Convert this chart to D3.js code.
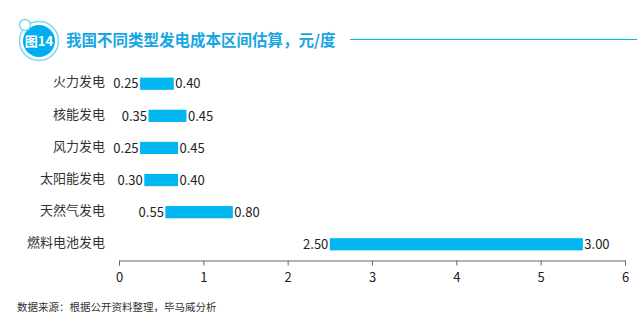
<!DOCTYPE html>
<html><head><meta charset="utf-8">
<script src="https://cdn.jsdelivr.net/npm/d3@7/dist/d3.min.js"></script>
<style>body{margin:0;background:#fff;}svg{display:block;font-family:"Noto Sans CJK SC","Noto Sans",sans-serif;}</style>
</head><body><svg id="c" width="637" height="326"></svg>
<script>
const categories = ["火力发电","核能发电","风力发电","太阳能发电","天然气发电","燃料电池发电"];
const lowValues = [0.25,0.35,0.25,0.30,0.55,2.50];
const highValues = [0.40,0.45,0.45,0.40,0.80,3.00];
const xTicks = [0,1,2,3,4,5,6];
const title = "我国不同类型发电成本区间估算，元/度";
const source = "数据来源：根据公开资料整理，毕马威分析";

const svg = d3.select("#c");
const blue = "#00B7F1";
const x = d3.scaleLinear().domain([0,6]).range([119,625]);
const y = d3.scaleBand().domain(categories).range([68,260]).paddingInner(0.62).paddingOuter(0.3);

// header badge
svg.append("circle").attr("cx",39).attr("cy",41).attr("r",19.5).attr("fill","none").attr("stroke","#7fd6f6").attr("stroke-width",1.5);
svg.append("circle").attr("cx",39).attr("cy",41).attr("r",16).attr("fill","#00AEEF");
svg.append("circle").attr("cx",25).attr("cy",25).attr("r",5.5).attr("fill","#fff").attr("stroke","#7fd6f6").attr("stroke-width",1.5);
svg.append("text").attr("x",39).attr("y",46).attr("text-anchor","middle").attr("fill","#fff")
  .attr("font-size",13).attr("font-weight","bold").text("图14");
svg.append("text").attr("x",66).attr("y",46).attr("fill","#17A6E3").attr("font-size",15.5).attr("font-weight","bold").text(title);
svg.append("line").attr("x1",350).attr("x2",637).attr("y1",39.5).attr("y2",39.5).attr("stroke","#00B7F1").attr("stroke-width",1.2);

// bars (stacked: invisible low + visible high)
const g = svg.append("g");
categories.forEach((c,i)=>{
  const yc = y(c) + y.bandwidth()/2;
  const x0 = x(lowValues[i]), x1 = x(lowValues[i]+highValues[i]);
  g.append("rect").attr("x",x0).attr("y",y(c)).attr("width",x1-x0).attr("height",y.bandwidth()).attr("fill",blue);
  g.append("text").attr("x",x0-1.5).attr("y",yc).attr("dy","0.36em").attr("text-anchor","end")
    .attr("font-size",13).attr("fill","#222").text(lowValues[i].toFixed(2));
  g.append("text").attr("x",x1+1.5).attr("y",yc).attr("dy","0.36em").attr("text-anchor","start")
    .attr("font-size",13).attr("fill","#222").text(highValues[i].toFixed(2));
  g.append("text").attr("x",105).attr("y",yc-2).attr("dy","0.36em").attr("text-anchor","end")
    .attr("font-size",13).attr("fill","#333").text(c);
});

// axis
const ax = svg.append("g").attr("transform","translate(0,260.5)")
  .call(d3.axisBottom(x).tickValues(xTicks).tickFormat(d3.format("d")).tickSize(5).tickSizeOuter(5).tickPadding(7));
ax.select(".domain").attr("stroke","#666");
ax.selectAll(".tick line").attr("stroke","#666");
ax.selectAll(".tick text").attr("font-size",13).attr("fill","#222").attr("font-family","'Noto Sans CJK SC','Noto Sans',sans-serif");

svg.append("text").attr("x",17).attr("y",311).attr("font-size",10.5).attr("fill","#333").text(source);
</script></body></html>
